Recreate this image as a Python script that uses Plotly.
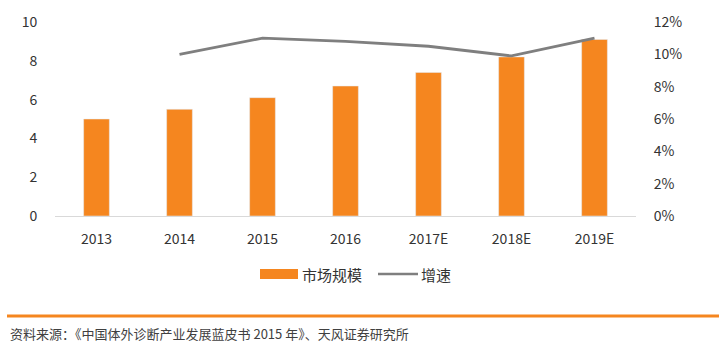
import plotly.graph_objects as go

categories = ["2013", "2014", "2015", "2016", "2017E", "2018E", "2019E"]
market_size = [5.0, 5.5, 6.1, 6.7, 7.4, 8.2, 9.1]
growth = [None, 0.100, 0.110, 0.108, 0.105, 0.099, 0.110]
left_ticks = [0, 2, 4, 6, 8, 10]
right_ticks = [0, 0.02, 0.04, 0.06, 0.08, 0.10, 0.12]
bar_name = "市场规模"
line_name = "增速"
source_text = "资料来源：《中国体外诊断产业发展蓝皮书 2015 年》、天风证券研究所"

ORANGE = "#F5861F"
GRAY = "#7F7F7F"
FONT = "Noto Sans CJK SC, Noto Sans, sans-serif"

fig = go.Figure()
fig.add_trace(go.Bar(x=categories, y=market_size, name=bar_name, marker_color=ORANGE,
                     width=0.31, yaxis="y", showlegend=False))
fig.add_trace(go.Scatter(x=categories, y=growth, name=line_name, mode="lines",
                         line=dict(color=GRAY, width=2.8), yaxis="y2", showlegend=False))

fig.update_layout(
    width=719, height=347,
    margin=dict(l=55, r=83, t=22, b=131),
    paper_bgcolor="white", plot_bgcolor="white",
    font=dict(family=FONT, size=14, color="#333333"),
    xaxis=dict(type="category", showline=True, linecolor="#D9D9D9", linewidth=1,
               ticks="outside", ticklen=10, tickcolor="rgba(0,0,0,0)", showgrid=False,
               tickfont=dict(size=14, color="#333333")),
    yaxis=dict(range=[0, 10], tickvals=left_ticks, showgrid=False, zeroline=False,
               ticks="outside", ticklen=14, tickcolor="rgba(0,0,0,0)",
               tickfont=dict(size=14, color="#333333")),
    yaxis2=dict(range=[0, 0.12], tickvals=right_ticks, tickformat=".0%", overlaying="y",
                side="right", showgrid=False, zeroline=False,
                ticks="outside", ticklen=14, tickcolor="rgba(0,0,0,0)",
                tickfont=dict(size=14, color="#333333")),
    bargap=0.5,
)

def px(x):
    return (x - 55) / 581

def py(y):
    return (216 - y) / 194

shapes = [
    dict(type="rect", xref="paper", yref="paper", x0=px(260), x1=px(298),
         y0=py(279), y1=py(269), fillcolor=ORANGE, line=dict(width=0)),
    dict(type="line", xref="paper", yref="paper", x0=px(378), x1=px(418),
         y0=py(274), y1=py(274), line=dict(color=GRAY, width=2.5)),
    dict(type="line", xref="paper", yref="paper", x0=px(7), x1=px(719),
         y0=py(316), y1=py(316), line=dict(color=ORANGE, width=3)),
]
annotations = [
    dict(text=bar_name, xref="paper", yref="paper", x=px(300), y=py(274),
         xanchor="left", yanchor="middle", showarrow=False, font=dict(size=15, color="#333333")),
    dict(text=line_name, xref="paper", yref="paper", x=px(419), y=py(274),
         xanchor="left", yanchor="middle", showarrow=False, font=dict(size=15, color="#333333")),
    dict(text=source_text, xref="paper", yref="paper", x=px(8), y=py(333),
         xanchor="left", yanchor="middle", showarrow=False, font=dict(size=13, color="#404040")),
]
fig.update_layout(shapes=shapes, annotations=annotations)

fig.write_html("out.html")
